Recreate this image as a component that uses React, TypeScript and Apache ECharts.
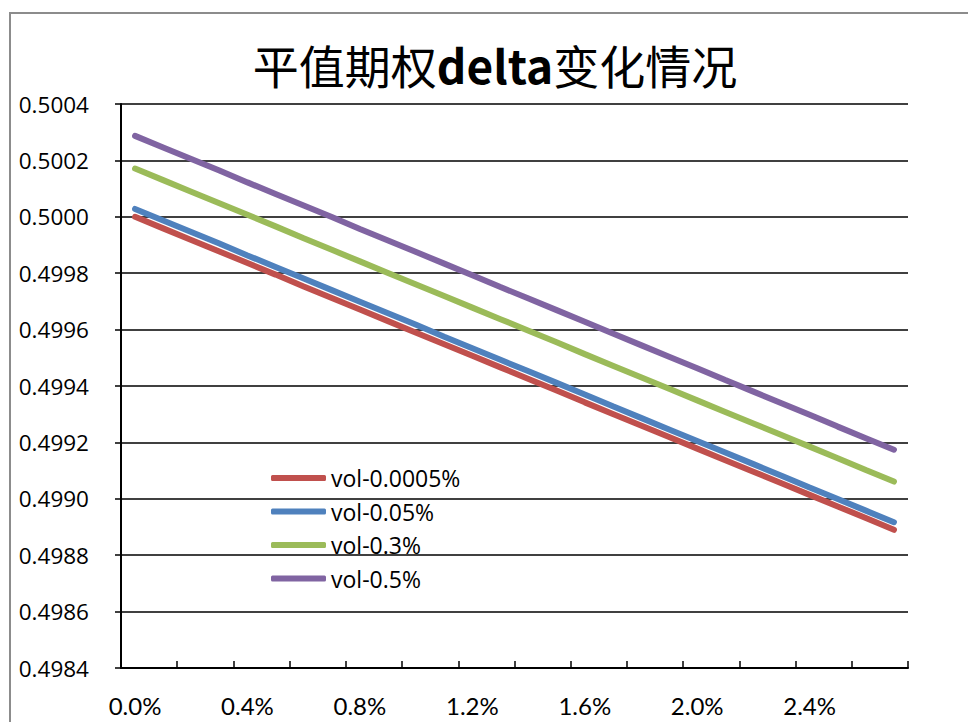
import React, { useEffect, useRef } from "react";
import * as echarts from "echarts";

// Option moneyness steps, 0.0% .. 2.7%
const categories: string[] = [
  "0.0%", "0.1%", "0.2%", "0.3%", "0.4%", "0.5%", "0.6%", "0.7%", "0.8%", "0.9%",
  "1.0%", "1.1%", "1.2%", "1.3%", "1.4%", "1.5%", "1.6%", "1.7%", "1.8%", "1.9%",
  "2.0%", "2.1%", "2.2%", "2.3%", "2.4%", "2.5%", "2.6%", "2.7%",
];

const seriesNames: string[] = ["vol-0.0005%", "vol-0.05%", "vol-0.3%", "vol-0.5%"];

const vol00005: number[] = [
  0.500000, 0.499959, 0.499918, 0.499877, 0.499836, 0.499795, 0.499753, 0.499712,
  0.499671, 0.499630, 0.499589, 0.499548, 0.499507, 0.499466, 0.499425, 0.499384,
  0.499342, 0.499301, 0.499260, 0.499219, 0.499178, 0.499137, 0.499096, 0.499055,
  0.499014, 0.498973, 0.498932, 0.498890,
];

const vol005: number[] = [
  0.500028, 0.499987, 0.499946, 0.499905, 0.499863, 0.499822, 0.499781, 0.499740,
  0.499699, 0.499658, 0.499617, 0.499575, 0.499534, 0.499493, 0.499452, 0.499411,
  0.499370, 0.499328, 0.499287, 0.499246, 0.499205, 0.499164, 0.499123, 0.499082,
  0.499040, 0.498999, 0.498958, 0.498917,
];

const vol03: number[] = [
  0.500171, 0.500130, 0.500089, 0.500048, 0.500007, 0.499966, 0.499924, 0.499883,
  0.499842, 0.499801, 0.499760, 0.499719, 0.499678, 0.499637, 0.499596, 0.499555,
  0.499513, 0.499472, 0.499431, 0.499390, 0.499349, 0.499308, 0.499267, 0.499226,
  0.499185, 0.499144, 0.499102, 0.499061,
];

const vol05: number[] = [
  0.500287, 0.500246, 0.500205, 0.500164, 0.500122, 0.500081, 0.500040, 0.499999,
  0.499957, 0.499916, 0.499875, 0.499834, 0.499793, 0.499751, 0.499710, 0.499669,
  0.499628, 0.499586, 0.499545, 0.499504, 0.499463, 0.499421, 0.499380, 0.499339,
  0.499298, 0.499256, 0.499215, 0.499174,
];

const yMin = 0.4984;
const yMax = 0.5004;
const yStep = 0.0002;

const colors = ["#C0504D", "#4F81BD", "#9BBB59", "#8064A2"];

export default function App() {
  const ref = useRef<HTMLDivElement>(null);

  useEffect(() => {
    if (!ref.current) return;
    const chart = echarts.init(ref.current, undefined, { renderer: "svg" });
    const allSeries = [vol00005, vol005, vol03, vol05];

    chart.setOption({
      animation: false,
      backgroundColor: "#ffffff",
      color: colors,
      graphic: [
        {
          type: "rect",
          z: -10,
          shape: { x: 10, y: 13, width: 1000, height: 1000 },
          style: { fill: "none", stroke: "#8c8c8c", lineWidth: 2 },
          silent: true,
        },
        {
          type: "text",
          x: 495,
          y: 64,
          style: {
            text: "{c|平值期权}{b|delta}{c|变化情况}",
            align: "center",
            verticalAlign: "middle",
            rich: {
              c: {
                fontFamily: "Noto Sans CJK SC",
                fontSize: 46,
                fill: "#000",
              },
              b: {
                fontFamily: "Noto Sans CJK SC",
                fontWeight: "bold",
                fontSize: 46,
                fill: "#000",
              },
            },
          },
        },
      ],
      legend: {
        orient: "vertical",
        left: 266,
        top: 461,
        itemWidth: 55,
        itemHeight: 6,
        itemGap: 9.5,
        icon: "roundRect",
        data: seriesNames,
        textStyle: {
          fontFamily: "Open Sans",
          fontSize: 23,
          lineHeight: 24,
          color: "#000",
        },
      },
      grid: {
        left: 121,
        right: 60,
        top: 104,
        bottom: 54,
        containLabel: false,
      },
      xAxis: {
        type: "category",
        data: categories,
        boundaryGap: true,
        axisLine: { show: true, lineStyle: { color: "#000", width: 2 } },
        axisTick: {
          show: true,
          inside: true,
          length: 7,
          interval: 1,
          lineStyle: { color: "#000", width: 1.5 },
        },
        axisLabel: {
          interval: 3,
          margin: 25,
          fontFamily: "Lato",
          fontSize: 24,
          color: "#000",
        },
        splitLine: { show: false },
      },
      yAxis: {
        type: "value",
        min: yMin,
        max: yMax,
        interval: yStep,
        axisLine: { show: true, lineStyle: { color: "#000", width: 2 } },
        axisTick: { show: true, length: 6, lineStyle: { color: "#000", width: 1.5 } },
        axisLabel: {
          margin: 32,
          fontFamily: "Open Sans",
          fontSize: 22.5,
          color: "#000",
          formatter: (v: number) => v.toFixed(4),
        },
        splitLine: { show: true, lineStyle: { color: "#000", width: 1.5 } },
      },
      series: seriesNames.map((name, i) => ({
        name,
        type: "line",
        data: allSeries[i],
        symbol: "none",
        showSymbol: false,
        lineStyle: { width: 6, color: colors[i], cap: "round" },
        itemStyle: { color: colors[i] },
      })),
    });

    return () => chart.dispose();
  }, []);

  return (
    <div
      ref={ref}
      style={{ position: "absolute", left: 0, top: 0, width: 968, height: 722, background: "#fff" }}
    />
  );
}
